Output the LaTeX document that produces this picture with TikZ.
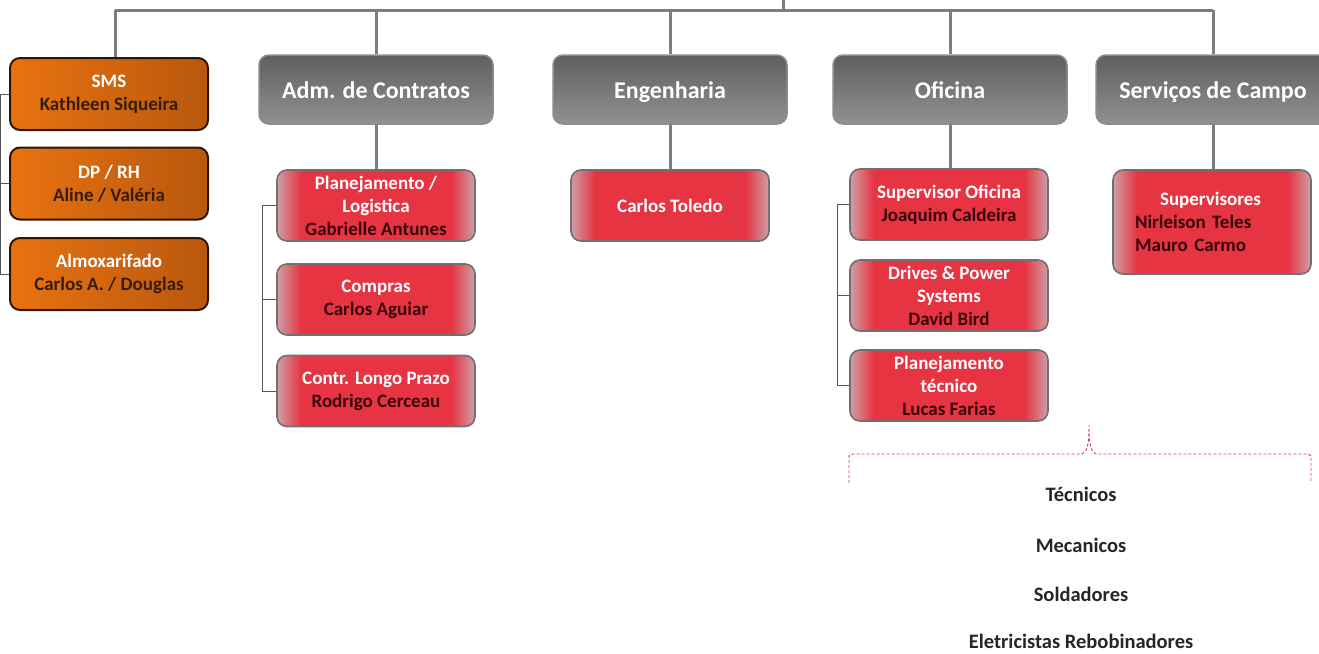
\documentclass[tikz,border=0pt]{standalone}
\usepackage{fontspec}
\setmainfont{Carlito}
\definecolor{busgray}{RGB}{125,125,125}
\definecolor{hdtop}{RGB}{95,95,95}
\definecolor{hdbot}{RGB}{145,145,145}
\definecolor{hdborder}{RGB}{140,140,140}
\definecolor{orA}{RGB}{232,114,16}
\definecolor{orB}{RGB}{185,88,14}
\definecolor{orborder}{RGB}{45,22,5}
\definecolor{ortext}{RGB}{55,28,5}
\definecolor{redMid}{RGB}{230,52,66}
\definecolor{redEdge}{RGB}{205,160,168}
\definecolor{redborder}{RGB}{115,110,112}
\definecolor{redtext}{RGB}{55,5,10}
\definecolor{bracered}{RGB}{210,70,90}
\definecolor{thinline}{RGB}{85,85,85}
\pgfdeclarehorizontalshading{redshade}{100bp}{color(0bp)=(redEdge); color(25bp)=(redEdge); color(31bp)=(redMid); color(69bp)=(redMid); color(75bp)=(redEdge); color(100bp)=(redEdge)}
\tikzset{
  bus/.style={draw=busgray, line width=3pt},
  thin/.style={draw=thinline, line width=0.9pt},
  hdbox/.style={draw=hdborder, line width=1.5pt, rounded corners=10pt, top color=hdtop, bottom color=hdbot,
    minimum width=234pt, minimum height=69pt, text=white, text height=18pt, text depth=1pt,
    font=\bfseries\fontsize{24}{28}\selectfont},
  orbox/.style={draw=orborder, line width=2pt, rounded corners=10pt, left color=orA, right color=orB,
    minimum width=198pt, minimum height=72pt, align=center, text=ortext, font=\bfseries\fontsize{19}{23}\selectfont},
  rdbox/.style={draw=redborder, line width=1.6pt, rounded corners=10pt, shading=redshade,
    minimum width=198pt, minimum height=71pt, align=center, text=redtext, font=\bfseries\fontsize{19}{23}\selectfont},
  lbl/.style={text=black!85, font=\bfseries\fontsize{20.5}{24}\selectfont}
}
\begin{document}
\begin{tikzpicture}[x=1pt,y=-1pt]
\useasboundingbox (0,0) rectangle (1319,653);
% headers
\node[hdbox] (adm) at (376,89.5) {Adm. de Contratos};
\node[hdbox] (eng) at (670,89.5) {Engenharia};
\node[hdbox] (ofi) at (950,89.5) {Oficina};
\node[hdbox] (serv) at (1213,89.5) {Serviços de Campo};
% orange
\node[orbox] (sms) at (109,94) {\textcolor{white}{SMS}\\Kathleen Siqueira};
\node[orbox] (dprh) at (109,183.5) {\textcolor{white}{DP / RH}\\Aline / Valéria};
\node[orbox] (almox) at (109,274) {\textcolor{white}{Almoxarifado}\\Carlos A. / Douglas};
% red
\node[rdbox] (planlog) at (376,205.5) {\textcolor{white}{Planejamento /}\\\textcolor{white}{Logistica}\\Gabrielle Antunes};
\node[rdbox] (compras) at (376,299.5) {\textcolor{white}{Compras}\\Carlos Aguiar};
\node[rdbox] (contr) at (376,391) {\textcolor{white}{Contr. Longo Prazo}\\Rodrigo Cerceau};
\node[rdbox] (toledo) at (670,205.5) {\textcolor{white}{Carlos Toledo}};
\node[rdbox] (supof) at (949,204.5) {\textcolor{white}{Supervisor Oficina}\\Joaquim Caldeira};
\node[rdbox] (drives) at (949,295.5) {\textcolor{white}{Drives \& Power}\\\textcolor{white}{Systems}\\David Bird};
\node[rdbox] (plantec) at (949,385.5) {\textcolor{white}{Planejamento}\\\textcolor{white}{técnico}\\Lucas Farias};
\node[rdbox, minimum height=104pt, text width=154pt, align=left, inner xsep=0pt] (supv) at (1212,222)
  {\hspace*{25pt}\textcolor{white}{Supervisores}\\Nirleison Teles\\Mauro Carmo};
% bus
\coordinate (top) at (783,0);
\coordinate (topb) at (783,10);
\coordinate (b1) at (115,10);
\coordinate (b5) at (1213,10);
\draw[bus] (top) -- (topb);
\draw[bus] (b1) -- (b5);
\draw[bus] (b1) -- (b1 |- sms.north);
\draw[bus] (376,10) -- (adm.north);
\draw[bus] (670,10) -- (eng.north);
\draw[bus] (950,10) -- (ofi.north);
\draw[bus] (b5) -- (serv.north);
\draw[bus] (adm.south) -- (adm.south |- planlog.north);
\draw[bus] (eng.south) -- (toledo.north);
\draw[bus] (ofi.south) -- (ofi.south |- supof.north);
\draw[bus] (serv.south) -- (serv.south |- supv.north);
% thin side lines
\draw[thin] (sms.west) -- ++(-9,0) |- (almox.west);
\draw[thin] (dprh.west) -- ++(-9,0);
\draw[thin] (planlog.west) -- ++(-14,0) |- (contr.west);
\draw[thin] (compras.west) -- ++(-14,0);
\draw[thin] (supof.west) -- ++(-12,0) |- (plantec.west);
\draw[thin] (drives.west) -- ++(-12,0);
% brace
\coordinate (brL) at (849,483);
\coordinate (brR) at (1311,483);
\coordinate (brT) at (1089,425);
\draw[bracered, line width=0.9pt, dash pattern=on 3pt off 2pt]
  (brL) -- (849,459) .. controls (849,455) .. (853,454) -- (1080,454)
  .. controls (1087,454) and (1089,446) .. (brT)
  .. controls (1089,446) and (1091,454) .. (1098,454) -- (1307,454)
  .. controls (1311,455) .. (1311,459) -- (brR);
% labels
\node[lbl] (tec) at (1081,494) {Técnicos};
\node[lbl] (mec) at (1081,545) {Mecanicos};
\node[lbl] (sol) at (1081,594) {Soldadores};
\node[lbl] (ele) at (1081,641) {Eletricistas Rebobinadores};
\end{tikzpicture}
\end{document}
